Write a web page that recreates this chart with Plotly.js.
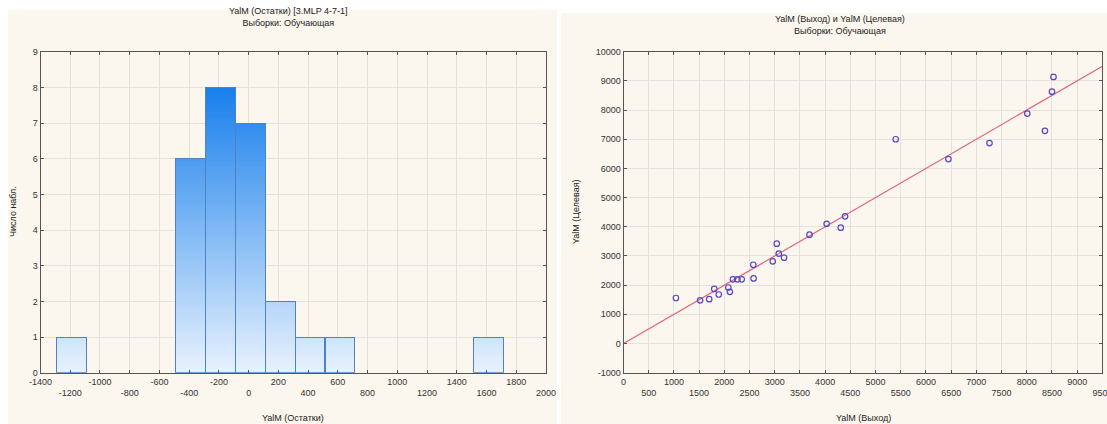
<!DOCTYPE html>
<html><head><meta charset="utf-8">
<script src="https://cdn.plot.ly/plotly-3.0.1.min.js"></script>
<style>html,body{margin:0;padding:0;background:#fff;}#chart{width:1107px;height:424px;}</style>
</head><body><div id="chart"></div>
<script>
// ---- Histogram of residuals ----
const binCenters = [-1192, -389, -188, 12, 213, 414, 614, 1616];
const binCounts  = [1, 6, 8, 7, 2, 1, 1, 1];
const binWidth   = 201;
const histXTicks = [-1400, -1200, -1000, -800, -600, -400, -200, 0, 200, 400, 600, 800, 1000, 1200, 1400, 1600, 1800, 2000];
const histYTicks = [0, 1, 2, 3, 4, 5, 6, 7, 8, 9];

// ---- Output vs target scatter ----
const outputVals = [1040, 1520, 1700, 1800, 1890, 2080, 2110, 2170, 2260, 2345, 2575, 2580, 2960, 3040, 3080, 3185,
                    5400, 3690, 4030, 4395, 4310, 8530, 8500, 8010, 8360, 7260, 6445];
const targetVals = [1560, 1480, 1520, 1870, 1680, 1920, 1770, 2200, 2200, 2200, 2700, 2230, 2815, 3420, 3080, 2940,
                    7000, 3730, 4100, 4360, 3970, 9135, 8630, 7880, 7290, 6870, 6320];
const fitX = [0, 9500];
const fitY = [0, 9500];
const scatXTicks = [0, 500, 1000, 1500, 2000, 2500, 3000, 3500, 4000, 4500, 5000, 5500, 6000, 6500, 7000, 7500, 8000, 8500, 9000, 9500];
const scatYTicks = [-1000, 0, 1000, 2000, 3000, 4000, 5000, 6000, 7000, 8000, 9000, 10000];

const W = 1107, H = 424;
const PX = p => p / W, PY = p => 1 - p / H;

// staggered two-row tick labels
function stagger(vals) {
  return vals.map((v, i) => (i % 2 === 0 ? String(v) : ' <br>' + String(v)));
}

// vertical gradient for bars, built as stacked slices of each count
const lowC = [232, 242, 253], highC = [24, 127, 236];
const gradTop = 8, step = 0.1;
const traces = [];
const nSlices = Math.ceil(Math.max(...binCounts) / step);
for (let j = 0; j < nSlices; j++) {
  const t = Math.min(1, (j + 0.5) * step / gradTop);
  const c = lowC.map((l, k) => Math.round(l + (highC[k] - l) * t));
  traces.push({
    type: 'bar', x: binCenters, width: binWidth,
    y: binCounts.map(v => Math.max(0, Math.min(step, v - j * step))),
    marker: {color: `rgb(${c[0]},${c[1]},${c[2]})`, line: {width: 0}},
    xaxis: 'x', yaxis: 'y', hoverinfo: 'skip', showlegend: false
  });
}
// bar outlines
traces.push({
  type: 'bar', x: binCenters, y: binCounts, width: binWidth,
  marker: {color: 'rgba(0,0,0,0)', line: {color: '#4f82c2', width: 1}},
  xaxis: 'x3', yaxis: 'y3', showlegend: false
});
// fit line and points
traces.push({
  type: 'scatter', mode: 'lines', x: fitX, y: fitY,
  line: {color: '#e2627c', width: 1.2}, xaxis: 'x2', yaxis: 'y2', showlegend: false
});
traces.push({
  type: 'scatter', mode: 'markers', x: outputVals, y: targetVals,
  marker: {symbol: 'circle-open', size: 5.5, color: '#5549c4', line: {width: 1.2}},
  xaxis: 'x2', yaxis: 'y2', showlegend: false
});

const yDom = [PY(372.7), PY(51.7)];
const base = {
  showline: true, linecolor: '#555', linewidth: 1, mirror: 'allticks',
  ticks: 'inside', ticklen: 3, tickcolor: '#555',
  showgrid: true, gridcolor: '#e2e2e2', gridwidth: 1, zeroline: false,
  tickfont: {family: 'Liberation Sans, Arial, sans-serif', size: 9, color: '#333'},
  tickmode: 'array', fixedrange: true, ticklabeloverflow: 'allow'
};

const font = {family: 'Liberation Sans, Arial, sans-serif', size: 9, color: '#222'};
const layout = {
  width: W, height: H,
  margin: {l: 0, r: 0, t: 0, b: 0, pad: 0},
  paper_bgcolor: '#ffffff', plot_bgcolor: '#ffffff',
  barmode: 'stack', bargap: 0,
  font: font,
  xaxis: Object.assign({}, base, {domain: [PX(40.5), PX(546)], range: [-1400, 2000], anchor: 'y',
    tickvals: histXTicks, ticktext: stagger(histXTicks)}),
  yaxis: Object.assign({}, base, {domain: yDom, range: [0, 9], anchor: 'x',
    tickvals: histYTicks, ticktext: histYTicks.map(String)}),
  xaxis3: {overlaying: 'x', range: [-1400, 2000], visible: false, fixedrange: true},
  yaxis3: {overlaying: 'y', range: [0, 9], visible: false, fixedrange: true},
  xaxis2: Object.assign({}, base, {domain: [PX(623.5), PX(1102.4)], range: [0, 9500], anchor: 'y2',
    tickvals: scatXTicks, ticktext: stagger(scatXTicks)}),
  yaxis2: Object.assign({}, base, {domain: yDom, range: [-1000, 10000], anchor: 'x2',
    tickvals: scatYTicks, ticktext: scatYTicks.map(String)}),
  shapes: [
    {type: 'rect', xref: 'paper', yref: 'paper', x0: PX(8), x1: PX(557), y0: 0, y1: PY(10),
     fillcolor: '#fcf7ee', line: {width: 0}, layer: 'below'},
    {type: 'rect', xref: 'paper', yref: 'paper', x0: PX(561), x1: 1, y0: 0, y1: PY(13),
     fillcolor: '#fcf7ee', line: {width: 0}, layer: 'below'}
  ],
  annotations: [
    {text: 'YalM (Остатки) [3.MLP 4-7-1]<br>Выборки: Обучающая', xref: 'paper', yref: 'paper',
     x: PX(288), y: PY(30), xanchor: 'center', yanchor: 'bottom', showarrow: false, font: font},
    {text: 'YalM (Выход) и YalM (Целевая)<br>Выборки: Обучающая', xref: 'paper', yref: 'paper',
     x: PX(840), y: PY(38), xanchor: 'center', yanchor: 'bottom', showarrow: false, font: font},
    {text: 'YalM (Остатки)', xref: 'paper', yref: 'paper', x: PX(293), y: PY(418),
     xanchor: 'center', yanchor: 'middle', showarrow: false, font: font},
    {text: 'YalM (Выход)', xref: 'paper', yref: 'paper', x: PX(863), y: PY(418),
     xanchor: 'center', yanchor: 'middle', showarrow: false, font: font},
    {text: 'Число набл.', xref: 'paper', yref: 'paper', x: PX(13), y: PY(212), textangle: -90,
     xanchor: 'center', yanchor: 'middle', showarrow: false, font: font},
    {text: 'YalM (Целевая)', xref: 'paper', yref: 'paper', x: PX(576), y: PY(212), textangle: -90,
     xanchor: 'center', yanchor: 'middle', showarrow: false, font: font}
  ]
};

Plotly.newPlot('chart', traces, layout, {staticPlot: true, displayModeBar: false});
</script>
</body></html>
